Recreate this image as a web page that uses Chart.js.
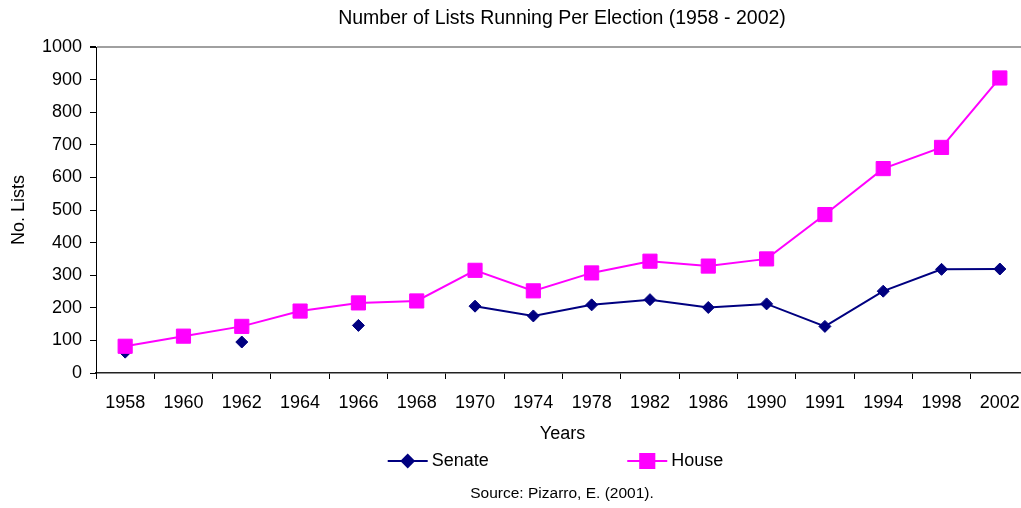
<!DOCTYPE html>
<html>
<head>
<meta charset="utf-8">
<script src="https://cdn.jsdelivr.net/npm/chart.js@4/dist/chart.umd.min.js"></script>
<style>
html,body{margin:0;padding:0;background:#fff;overflow:hidden;}
#wrap{position:absolute;left:0;top:0;width:1124px;height:508px;}
</style>
</head>
<body>
<div id="wrap"><canvas id="c" width="1124" height="508"></canvas></div>
<script>
const categories = ['1958','1960','1962','1964','1966','1968','1970','1974','1978','1982','1986','1990','1991','1994','1998','2002'];
const senate = [64, null, 95, null, 146, null, 205, 175, 209, 225, 201, 212, 143, 251, 318, 319];
const house = [82, 113, 143, 190, 215, 221, 315, 252, 307, 343, 328, 350, 486, 627, 692, 905];
const yTicks = [0,100,200,300,400,500,600,700,800,900,1000];

const FONT = "'Liberation Sans', Arial, sans-serif";
Chart.defaults.font.family = FONT;
Chart.defaults.color = '#000';

const SENATE_COLOR = '#000080';
const HOUSE_COLOR = '#FF00FF';

const legendPlugin = {
  id: 'customLegend',
  afterDraw(chart) {
    const ctx = chart.ctx;
    const area = chart.chartArea;
    const cx = (area.left + area.right) / 2 - 7;
    const y = 461;
    ctx.save();
    ctx.font = '18px ' + FONT;
    ctx.textBaseline = 'middle';
    ctx.textAlign = 'left';
    const items = chart.data.datasets.map(ds => ({
      text: ds.label, color: ds.borderColor, style: ds.pointStyle, r: ds.pointRadius
    }));
    const lineW = 40, gapText = 4, gapItem = 138.5;
    const widths = items.map(it => lineW + gapText + ctx.measureText(it.text).width);
    const total = widths.reduce((a,b)=>a+b,0) + gapItem*(items.length-1);
    let x = cx - total/2;
    items.forEach((it, i) => {
      ctx.strokeStyle = it.color;
      ctx.lineWidth = 2;
      ctx.beginPath();
      ctx.moveTo(x, y); ctx.lineTo(x + lineW, y);
      ctx.stroke();
      ctx.fillStyle = it.color;
      Chart.helpers.drawPoint(ctx, {pointStyle: it.style, radius: it.r, borderWidth: 1, rotation: 0}, x + lineW/2, y);
      ctx.fillStyle = '#000';
      ctx.fillText(it.text, x + lineW + gapText, y);
      x += widths[i] + gapItem;
    });
    ctx.restore();
  }
};

new Chart(document.getElementById('c'), {
  type: 'line',
  data: {
    labels: categories,
    datasets: [
      {
        label: 'Senate',
        data: senate,
        borderColor: SENATE_COLOR,
        backgroundColor: SENATE_COLOR,
        pointBackgroundColor: SENATE_COLOR,
        pointBorderColor: SENATE_COLOR,
        pointStyle: 'rectRot',
        pointRadius: 6,
        pointBorderWidth: 1,
        borderWidth: 2,
        spanGaps: false,
        tension: 0,
        order: 2
      },
      {
        label: 'House',
        data: house,
        borderColor: HOUSE_COLOR,
        backgroundColor: HOUSE_COLOR,
        pointBackgroundColor: HOUSE_COLOR,
        pointBorderColor: HOUSE_COLOR,
        pointStyle: 'rect',
        pointRadius: 10,
        pointBorderWidth: 1,
        borderWidth: 2,
        tension: 0,
        order: 1
      }
    ]
  },
  options: {
    responsive: false,
    animation: false,
    devicePixelRatio: 1,
    layout: { padding: 0 },
    plugins: {
      legend: { display: false },
      tooltip: { enabled: false },
      title: {
        display: true,
        text: 'Number of Lists Running Per Election (1958 - 2002)',
        font: { size: 19.5, weight: 'normal' },
        color: '#000',
        padding: { top: 6.8, bottom: 16.8 }
      },
      subtitle: {
        display: true,
        position: 'bottom',
        text: 'Source: Pizarro, E. (2001).',
        font: { size: 15.5, weight: 'normal' },
        color: '#000',
        padding: { top: 2.3, bottom: 4.7 }
      }
    },
    scales: {
      x: {
        type: 'category',
        offset: true,
        afterFit(scale) { scale.height = 109.4; },
        grid: {
          offset: true,
          drawOnChartArea: false,
          color: 'rgba(0,0,0,0)',
          tickColor: '#000',
          tickLength: 6
        },
        border: { display: true, color: '#222', width: 1.5 },
        ticks: { font: { size: 18 }, color: '#000', padding: 13, maxRotation: 0, autoSkip: false },
        title: {
          display: true, text: 'Years', font: { size: 18 }, color: '#000',
          padding: { top: 0, bottom: 38 }
        }
      },
      y: {
        min: 0,
        max: 1000,
        afterBuildTicks(scale) { scale.ticks = yTicks.map(v => ({ value: v })); },
        afterFit(scale) { scale.width = 96; },
        grid: {
          color: c => (c.tick && c.tick.value === 1000) ? '#a0a0a0' : 'rgba(0,0,0,0)',
          tickColor: '#000',
          tickLength: 6,
          lineWidth: c => (c.tick && c.tick.value === 1000) ? 2 : 1
        },
        border: { display: true, color: '#000', width: 1 },
        ticks: { font: { size: 18 }, color: '#000', padding: 8, callback: v => String(v) },
        title: {
          display: true, text: 'No. Lists', font: { size: 18 }, color: '#000',
          padding: { top: 8, bottom: 0 }
        }
      },
      yRight: {
        position: 'right',
        display: true,
        min: 0,
        max: 1000,
        afterFit(scale) { scale.width = 95; },
        grid: { display: false, drawTicks: false },
        border: { display: false },
        ticks: { display: false }
      }
    }
  },
  plugins: [legendPlugin]
});
</script>
</body>
</html>
